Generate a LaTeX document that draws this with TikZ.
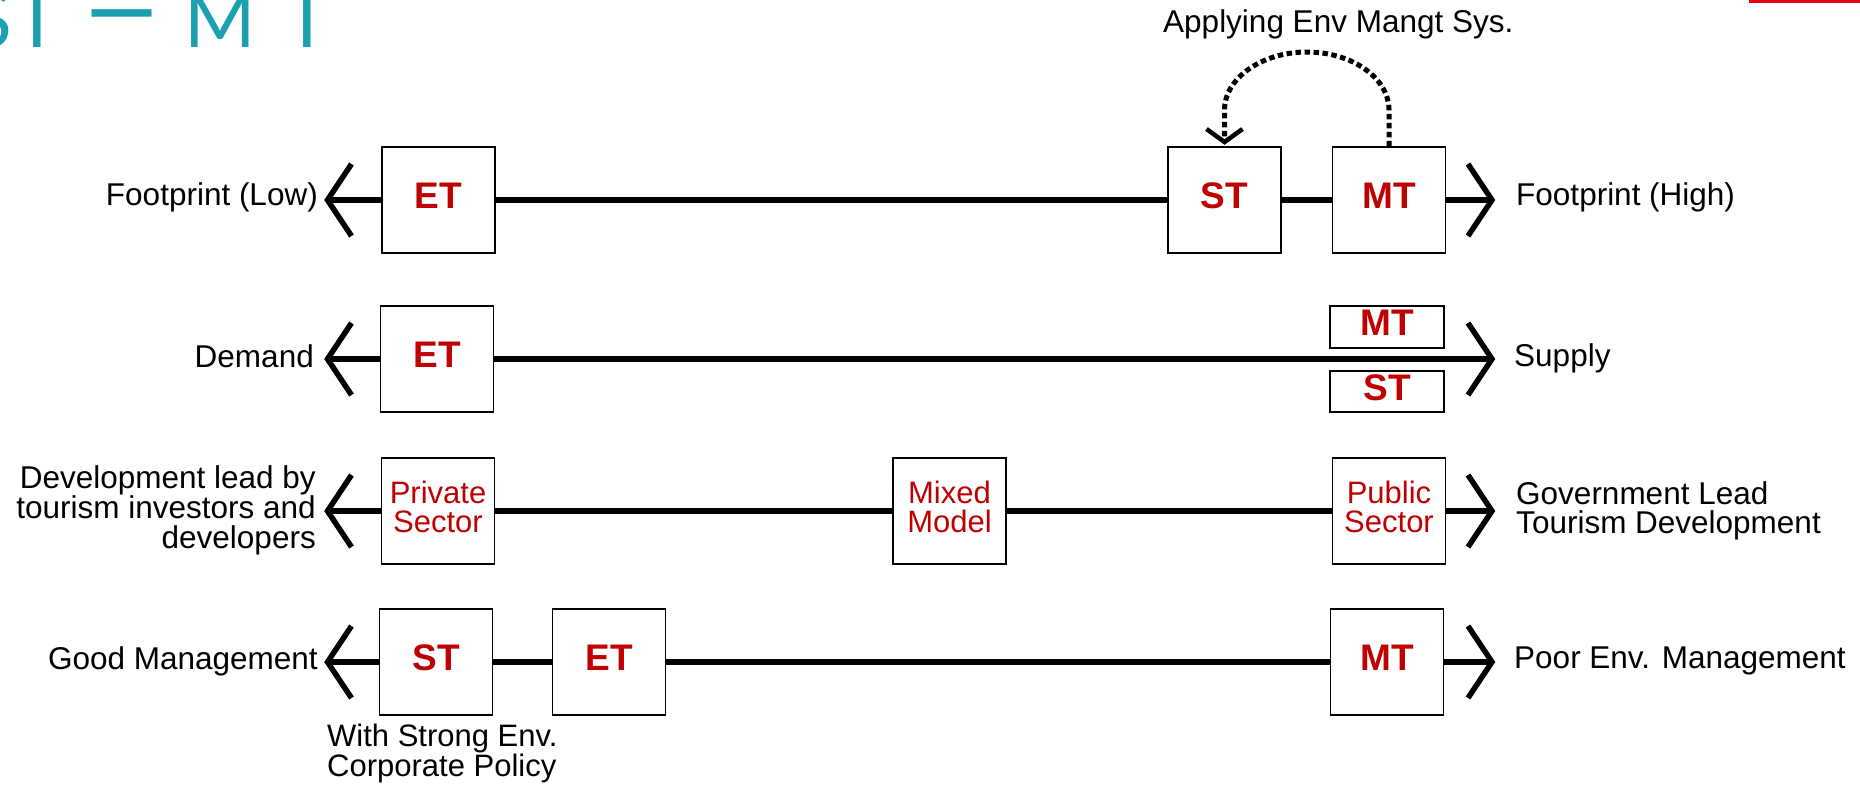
\documentclass[tikz,border=0pt]{standalone}
\usepackage{fontspec}
\usepackage{graphicx}
\setmainfont{Liberation Sans}
\newfontfamily\titlefont{Lato}
\definecolor{tred}{RGB}{192,0,0}
\definecolor{tealc}{RGB}{27,160,176}
\definecolor{redbar}{RGB}{230,0,18}
\begin{document}
\begin{tikzpicture}[x=1pt,y=-1pt,
  bar/.style={line width=5.5pt},
  barb/.style={line width=5.5pt, line join=miter},
  dots/.style={line width=5pt, dash pattern=on 5.5pt off 3.5pt},
  box/.style={draw=black, line width=1.4pt, fill=white, minimum width=113pt, minimum height=106pt, inner sep=0pt},
  sbox/.style={box, minimum width=114pt, minimum height=42pt},
  tagb/.style={text=tred, font=\fontsize{37}{37}\selectfont\bfseries, text depth=8pt},
  tagr/.style={text=tred, font=\fontsize{31}{29}\selectfont, align=center},
  lbl/.style={font=\fontsize{31.5}{30}\selectfont, inner sep=0pt},
]
\clip (0,0) rectangle (1860,785);
\fill[white] (0,0) rectangle (1860,785);

% title and corner bar
\node[anchor=base west, inner sep=0pt, text=tealc, font=\titlefont\fontsize{77}{77}\selectfont] (title) at (-32,47)
  {\spaceskip=15pt\relax\makebox[46pt][c]{S}\makebox[46pt][c]{T} \makebox[93pt][c]{\scalebox{1}[1.5]{\resizebox{87pt}{\height}{–}}} \makebox[74pt][c]{M}\makebox[100pt][c]{T}};
\fill[redbar] (1749,0) rectangle (1860,3);

% ---------- row 1 ----------
\coordinate (L1) at (327.5,200);
\coordinate (R1) at (1492,200);
\node[box,tagb] (et1) at (438.5,200) {ET};
\node[box,tagb] (st1) at (1224.5,200) {ST};
\node[box,tagb] (mt1) at (1389,200) {MT};
\draw[bar] (L1) -- (et1);
\draw[bar] (et1) -- (st1);
\draw[bar] (st1) -- (mt1);
\draw[bar] (mt1) -- (R1);
\draw[barb] ([shift={(24,-36)}]L1) -- (L1) -- ([shift={(24,36)}]L1);
\draw[barb] ([shift={(-24,-36)}]R1) -- (R1) -- ([shift={(-24,36)}]R1);
\node[lbl, anchor=base east] (fpl) at (318,205) {Footprint (Low)};
\node[lbl, anchor=base west] (fph) at (1516,205) {Footprint (High)};

% dotted loop MT -> ST
\coordinate (tipA) at (1224.5,142);
\draw[dots] (mt1.north) -- (1389,110) .. controls (1389,78) and (1352,52) .. (1307,52)
  .. controls (1262,52) and (1224.5,78) .. (1224.5,110) -- (tipA);
\draw[barb, line width=4.5pt] (1206.5,129) -- (tipA) -- (1242.5,129);
\node[lbl, anchor=base west] (ems) at (1163,32) {Applying Env Mangt Sys.};

% ---------- row 2 ----------
\coordinate (L2) at (327.5,359);
\coordinate (R2) at (1492,359);
\node[box,tagb] (et2) at (437,359) {ET};
\node[sbox,tagb] (mt2) at (1387,327) {MT};
\node[sbox,tagb, minimum height=41pt] (st2) at (1387,391.5) {ST};
\draw[bar] (L2) -- (et2);
\draw[bar] (et2) -- (R2);
\draw[barb] ([shift={(24,-36)}]L2) -- (L2) -- ([shift={(24,36)}]L2);
\draw[barb] ([shift={(-24,-36)}]R2) -- (R2) -- ([shift={(-24,36)}]R2);
\node[lbl, anchor=base east] (dem) at (314,367) {Demand};
\node[lbl, anchor=base west] (sup) at (1514,366) {Supply};

% ---------- row 3 ----------
\coordinate (L3) at (327.5,511);
\coordinate (R3) at (1492,511);
\node[box,tagr] (ps) at (438,511) {Private\\Sector\strut};
\node[box,tagr] (mm) at (949.5,511) {Mixed\\Model\strut};
\node[box,tagr] (pub) at (1389,511) {Public\\Sector\strut};
\draw[bar] (L3) -- (ps);
\draw[bar] (ps) -- (mm);
\draw[bar] (mm) -- (pub);
\draw[bar] (pub) -- (R3);
\draw[barb] ([shift={(24,-36)}]L3) -- (L3) -- ([shift={(24,36)}]L3);
\draw[barb] ([shift={(-24,-36)}]R3) -- (R3) -- ([shift={(-24,36)}]R3);
\node[lbl, align=right, anchor=east] (dev) at (316,510) {Development lead by\\tourism investors and\\developers};
\node[lbl, align=left, anchor=west, font=\fontsize{31.5}{29}\selectfont] (gov) at (1516,510.5) {Government Lead\\Tourism Development};

% ---------- row 4 ----------
\coordinate (L4) at (327.5,662);
\coordinate (R4) at (1492,662);
\node[box,tagb] (st4) at (436,662) {ST};
\node[box,tagb] (et4) at (609,662) {ET};
\node[box,tagb] (mt4) at (1387,662) {MT};
\draw[bar] (L4) -- (st4);
\draw[bar] (st4) -- (et4);
\draw[bar] (et4) -- (mt4);
\draw[bar] (mt4) -- (R4);
\draw[barb] ([shift={(24,-36)}]L4) -- (L4) -- ([shift={(24,36)}]L4);
\draw[barb] ([shift={(-24,-36)}]R4) -- (R4) -- ([shift={(-24,36)}]R4);
\node[lbl, anchor=base east] (good) at (318,669) {Good Management};
\node[lbl, anchor=base west] (poor) at (1514,668) {Poor Env. Management};
\node[lbl, align=left, anchor=west, font=\fontsize{31}{27}\selectfont] (strong) at (327,753.5) {With Strong Env.\\Corporate Policy};
\end{tikzpicture}
\end{document}
